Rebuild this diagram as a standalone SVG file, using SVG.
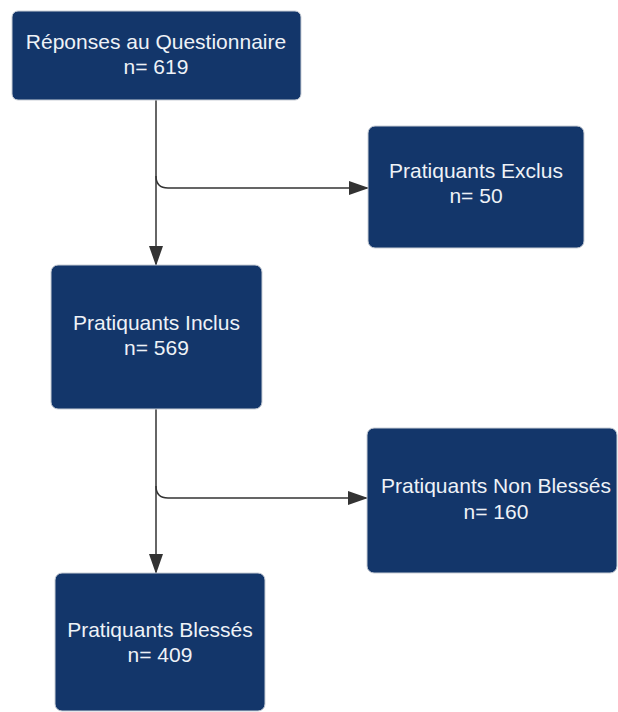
<svg xmlns="http://www.w3.org/2000/svg" width="618" height="712" viewBox="0 0 618 712">
<defs>
<style>
.box{fill:#13366a;stroke:#c9ced6;stroke-width:1}
.t{font-family:"Liberation Sans",Arial,sans-serif;font-size:21px;fill:#eef2f7;text-anchor:middle}
.c{fill:none;stroke:#333;stroke-width:1.5}
</style>
<marker id="ah" markerWidth="20" markerHeight="14" refX="19" refY="7" orient="auto" markerUnits="userSpaceOnUse">
<path d="M0,0 L20,7 L0,14 Z" fill="#333"/>
</marker>
</defs>
<rect width="618" height="712" fill="#fff"/>
<g id="connectors">
<path class="c" d="M156,100 V265" marker-end="url(#ah)"/>
<path class="c" d="M156,176 Q156,188 168,188 H368" marker-end="url(#ah)"/>
<path class="c" d="M156,409 V573" marker-end="url(#ah)"/>
<path class="c" d="M156,486 Q156,498 168,498 H367" marker-end="url(#ah)"/>
</g>
<g id="n1">
<rect class="box" x="12" y="11" width="289" height="89" rx="6"/>
<text class="t" x="156" y="49">Réponses au Questionnaire</text>
<text class="t" x="156" y="74">n= 619</text>
</g>
<g id="n2">
<rect class="box" x="368" y="126" width="216" height="122" rx="7"/>
<text class="t" x="476" y="178">Pratiquants Exclus</text>
<text class="t" x="476" y="203">n= 50</text>
</g>
<g id="n3">
<rect class="box" x="51" y="265" width="211" height="144" rx="7"/>
<text class="t" x="156.5" y="330">Pratiquants Inclus</text>
<text class="t" x="156.5" y="355">n= 569</text>
</g>
<g id="n4">
<rect class="box" x="367" y="428" width="250" height="145" rx="7"/>
<text class="t" x="496" y="493">Pratiquants Non Blessés</text>
<text class="t" x="496" y="519">n= 160</text>
</g>
<g id="n5">
<rect class="box" x="55" y="573" width="210" height="138" rx="7"/>
<text class="t" x="160" y="637">Pratiquants Blessés</text>
<text class="t" x="160" y="662">n= 409</text>
</g>
</svg>
